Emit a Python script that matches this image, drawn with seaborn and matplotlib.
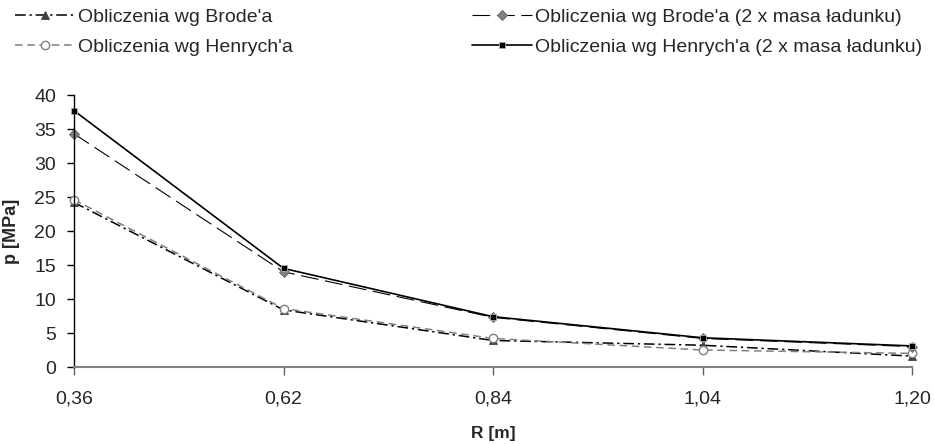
import numpy as np
import pandas as pd
import matplotlib
matplotlib.use("Agg")
import matplotlib.pyplot as plt
import seaborn as sns

# ---- data ----
r_labels = ["0,36", "0,62", "0,84", "1,04", "1,20"]
brode = [24.2, 8.4, 3.9, 3.2, 1.6]
henrych = [24.6, 8.6, 4.2, 2.5, 2.0]
brode_2x = [34.3, 14.0, 7.3, 4.2, 3.0]
henrych_2x = [37.7, 14.5, 7.4, 4.3, 3.1]
y_ticks = [0, 5, 10, 15, 20, 25, 30, 35, 40]

names = ["Obliczenia wg Brode'a",
         "Obliczenia wg Henrych'a",
         "Obliczenia wg Brode'a (2 x masa ładunku)",
         "Obliczenia wg Henrych'a (2 x masa ładunku)"]

sns.set_style("white")
plt.rcParams['font.family'] = ['Liberation Sans', 'DejaVu Sans']

W, H = 934, 444
fig = plt.figure(figsize=(W / 100, H / 100), dpi=100)
ax = fig.add_axes([74 / W, 1 - 367 / H, (912 - 74) / W, (367 - 95) / H])

styles = [
    dict(color="black", linestyle=(0, (7, 2.5, 1.5, 2.5)), linewidth=1.1,
         marker="^", markersize=5.5, markerfacecolor="#404040",
         markeredgecolor="#404040", markeredgewidth=0.6),
    dict(color="#808080", linestyle=(0, (5, 3)), linewidth=1.1,
         marker="o", markersize=6, markerfacecolor="white",
         markeredgecolor="#808080", markeredgewidth=1.0),
    dict(color="black", linestyle=(0, (16, 6)), linewidth=0.8,
         marker="D", markersize=5, markerfacecolor="#808080",
         markeredgecolor="#606060", markeredgewidth=0.6),
    dict(color="black", linestyle="-", linewidth=1.2,
         marker="s", markersize=5, markerfacecolor="black",
         markeredgecolor="#b0b0b0", markeredgewidth=0.6),
]

series = [brode, henrych, brode_2x, henrych_2x]
for name, vals, st in zip(names, series, styles):
    df = pd.DataFrame({"R": r_labels, "p": vals})
    sns.lineplot(data=df, x="R", y="p", ax=ax, label=name, sort=False,
                 clip_on=False, **st)

ax.set_xlim(0, len(r_labels) - 1)
ax.set_ylim(0, 40)
ax.set_yticks(y_ticks)
ax.set_yticklabels([str(v) for v in y_ticks])

for s in ["top", "right"]:
    ax.spines[s].set_visible(False)
ax.spines["left"].set_color("black")
ax.spines["left"].set_linewidth(1.0)
ax.spines["bottom"].set_color("#808080")
ax.spines["bottom"].set_linewidth(1.5)

ax.tick_params(axis="y", direction="out", length=5, width=1.0, color="black",
               labelsize=14, pad=8, left=True)
ax.tick_params(axis="x", direction="out", length=6, width=1.0, color="#606060",
               labelsize=14, pad=11, bottom=True)

ax.set_xlabel("R [m]", fontsize=12.5, fontweight="bold", labelpad=13)
ax.set_ylabel("p [MPa]", fontsize=13, fontweight="bold", labelpad=10)
ax.grid(False)

handles, labels = ax.get_legend_handles_labels()
ax.get_legend().remove()
fig.legend(handles, labels, ncol=2, loc="upper left",
           bbox_to_anchor=(15 / W, 1 - 8 / H), frameon=False,
           fontsize=14, handlelength=3.1, handletextpad=0.15,
           columnspacing=9.2, labelspacing=0.65, borderpad=0,
           borderaxespad=0)

fig.savefig("out.png", dpi=100)
